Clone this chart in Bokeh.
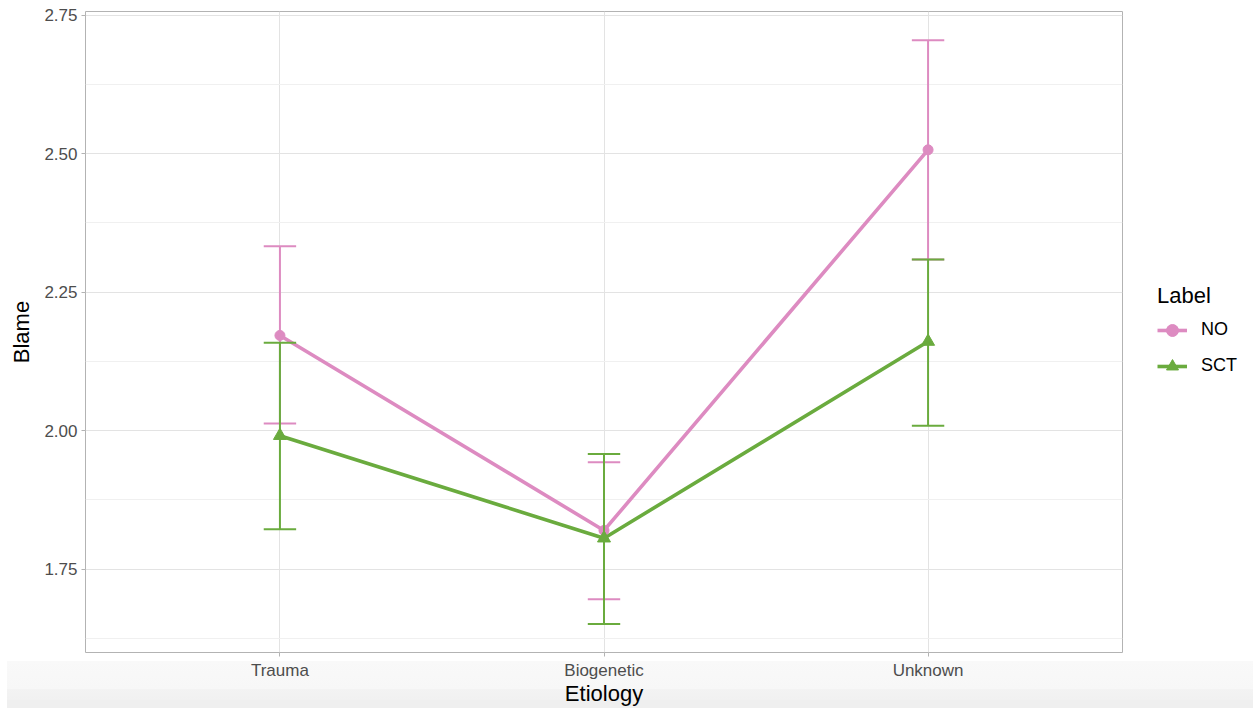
from bokeh.plotting import figure
from bokeh.models import (FixedTicker, PrintfTickFormatter, Legend, LegendItem,
                          ColumnDataSource, Range1d)
from bokeh.embed import file_html
from bokeh.resources import INLINE

# Mean blame ratings with confidence intervals, by etiology and label condition
etiologies = ["Trauma", "Biogenetic", "Unknown"]
labels = ["NO", "SCT"]

no_mean = [2.172, 1.820, 2.507]
no_lower = [2.013, 1.696, 2.309]
no_upper = [2.333, 1.943, 2.705]

sct_mean = [1.991, 1.806, 2.161]
sct_lower = [1.822, 1.651, 2.009]
sct_upper = [2.159, 1.958, 2.309]

y_major = [1.75, 2.00, 2.25, 2.50, 2.75]
y_minor = [1.625, 1.875, 2.125, 2.375, 2.625]

PINK = "#DD8BC1"
GREEN = "#6AAB3E"
FONT = "Liberation Sans"

xpos = list(range(1, len(etiologies) + 1))
cap = 0.05

p = figure(width=1253, height=708, output_backend="svg", toolbar_location=None,
           x_range=Range1d(0.4, 3.6), y_range=Range1d(1.5997, 2.7567),
           min_border_left=85, min_border_top=11, min_border_right=131,
           min_border_bottom=56)
p.frame_width = 1037
p.frame_height = 641

p.background_fill_color = "white"
p.border_fill_color = None
p.outline_line_color = "#B3B3B3"
p.outline_line_width = 1
p.styles = {
    "background": (
        "linear-gradient(to right, #ffffff 0px, #ffffff 7px, transparent 7px), "
        "linear-gradient(to bottom, #ffffff 0px, #ffffff 661px, #f9f9f9 661px, "
        "#f7f7f7 689px, #f3f3f3 689px, #f1f1f1 700px, #efefef 700px, #efefef 708px)"
    )
}

# grid
p.xgrid.ticker = FixedTicker(ticks=xpos)
p.xgrid.grid_line_color = "#E3E3E3"
p.xgrid.grid_line_width = 1
p.ygrid.ticker = FixedTicker(ticks=y_major, minor_ticks=y_minor)
p.ygrid.grid_line_color = "#E3E3E3"
p.ygrid.grid_line_width = 1
p.ygrid.minor_grid_line_color = "#F0F0F0"
p.ygrid.minor_grid_line_width = 1

# axes
for ax in (p.xaxis[0], p.yaxis[0]):
    ax.axis_line_color = None
    ax.major_tick_line_color = "#B3B3B3"
    ax.major_tick_out = 4
    ax.major_tick_in = 0
    ax.minor_tick_line_color = None
    ax.major_label_text_font = FONT
    ax.major_label_text_color = "#4D4D4D"
    ax.major_label_text_font_size = "17px"
    ax.axis_label_text_font = FONT
    ax.axis_label_text_font_style = "normal"
    ax.axis_label_text_color = "black"
    ax.axis_label_text_font_size = "22px"

p.xaxis.ticker = FixedTicker(ticks=xpos)
p.xaxis.major_label_overrides = {x: e for x, e in zip(xpos, etiologies)}
p.xaxis.axis_label = "Etiology"
p.xaxis.major_label_standoff = 4
p.xaxis.axis_label_standoff = -2

p.yaxis.ticker = FixedTicker(ticks=y_major)
p.yaxis.formatter = PrintfTickFormatter(format="%.2f")
p.yaxis.axis_label = "Blame"
p.yaxis.major_label_standoff = 4
p.yaxis.axis_label_standoff = 7


def series(mean, lower, upper):
    return ColumnDataSource(dict(
        x=xpos, y=mean, lo=lower, hi=upper,
        xl=[x - cap for x in xpos], xr=[x + cap for x in xpos],
    ))


src_no = series(no_mean, no_lower, no_upper)
src_sct = series(sct_mean, sct_lower, sct_upper)

line_no = p.line("x", "y", source=src_no, line_color=PINK, line_width=3.6)
line_sct = p.line("x", "y", source=src_sct, line_color=GREEN, line_width=3.6)
pt_no = p.scatter("x", "y", source=src_no, marker="circle", size=10,
                  fill_color=PINK, line_color=PINK)
pt_sct = p.scatter("x", "y", source=src_sct, marker="triangle", size=13,
                   fill_color=GREEN, line_color=GREEN)

for src, col in ((src_no, PINK), (src_sct, GREEN)):
    p.segment("x", "lo", "x", "hi", source=src, line_color=col, line_width=2)
    p.segment("xl", "lo", "xr", "lo", source=src, line_color=col, line_width=2)
    p.segment("xl", "hi", "xr", "hi", source=src, line_color=col, line_width=2)

legend = Legend(items=[
    LegendItem(label=labels[0], renderers=[line_no, pt_no]),
    LegendItem(label=labels[1], renderers=[line_sct, pt_sct]),
], location="center_left")
legend.title = "Label"
legend.title_text_font = FONT
legend.title_text_font_size = "22px"
legend.title_text_font_style = "normal"
legend.title_text_color = "black"
legend.title_standoff = 6
legend.label_text_font = FONT
legend.label_text_font_size = "18px"
legend.label_text_color = "black"
legend.glyph_width = 30
legend.glyph_height = 30
legend.label_height = 30
legend.spacing = 6
legend.label_standoff = 14
legend.padding = 12
legend.margin = 35
legend.border_line_color = None
legend.background_fill_alpha = 0
p.add_layout(legend, "right")

open("out.html", "w").write(file_html(p, INLINE))
